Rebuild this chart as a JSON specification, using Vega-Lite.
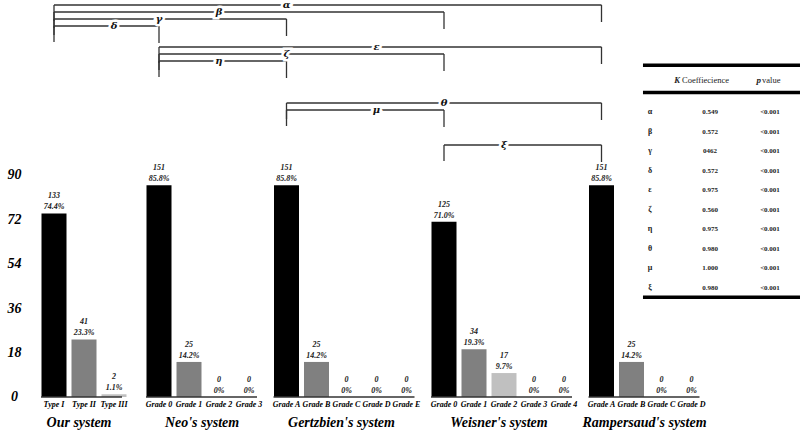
{
  "$schema": "https://vega.github.io/schema/vega-lite/v6.json",
  "width": 800,
  "height": 433,
  "autosize": "none",
  "padding": 0,
  "background": "white",
  "config": {"view": {"stroke": null}, "font": "Liberation Serif"},
  "datasets": {
    "bars": [
      {"system": "Our system", "grade": "Type I", "bar": "Our system|Type I", "n": 133, "pct": 74.4},
      {"system": "Our system", "grade": "Type II", "bar": "Our system|Type II", "n": 41, "pct": 23.3},
      {"system": "Our system", "grade": "Type III", "bar": "Our system|Type III", "n": 2, "pct": 1.1},
      {"system": "Neo's system", "grade": "Grade 0", "bar": "Neo's system|Grade 0", "n": 151, "pct": 85.8},
      {"system": "Neo's system", "grade": "Grade 1", "bar": "Neo's system|Grade 1", "n": 25, "pct": 14.2},
      {"system": "Neo's system", "grade": "Grade 2", "bar": "Neo's system|Grade 2", "n": 0, "pct": 0},
      {"system": "Neo's system", "grade": "Grade 3", "bar": "Neo's system|Grade 3", "n": 0, "pct": 0},
      {"system": "Gertzbien's system", "grade": "Grade A", "bar": "Gertzbien's system|Grade A", "n": 151, "pct": 85.8},
      {"system": "Gertzbien's system", "grade": "Grade B", "bar": "Gertzbien's system|Grade B", "n": 25, "pct": 14.2},
      {"system": "Gertzbien's system", "grade": "Grade C", "bar": "Gertzbien's system|Grade C", "n": 0, "pct": 0},
      {"system": "Gertzbien's system", "grade": "Grade D", "bar": "Gertzbien's system|Grade D", "n": 0, "pct": 0},
      {"system": "Gertzbien's system", "grade": "Grade E", "bar": "Gertzbien's system|Grade E", "n": 0, "pct": 0},
      {"system": "Weisner's system", "grade": "Grade 0", "bar": "Weisner's system|Grade 0", "n": 125, "pct": 71.0},
      {"system": "Weisner's system", "grade": "Grade 1", "bar": "Weisner's system|Grade 1", "n": 34, "pct": 19.3},
      {"system": "Weisner's system", "grade": "Grade 2", "bar": "Weisner's system|Grade 2", "n": 17, "pct": 9.7},
      {"system": "Weisner's system", "grade": "Grade 3", "bar": "Weisner's system|Grade 3", "n": 0, "pct": 0},
      {"system": "Weisner's system", "grade": "Grade 4", "bar": "Weisner's system|Grade 4", "n": 0, "pct": 0},
      {"system": "Rampersaud's system", "grade": "Grade A", "bar": "Rampersaud's system|Grade A", "n": 151, "pct": 85.8},
      {"system": "Rampersaud's system", "grade": "Grade B", "bar": "Rampersaud's system|Grade B", "n": 25, "pct": 14.2},
      {"system": "Rampersaud's system", "grade": "Grade C", "bar": "Rampersaud's system|Grade C", "n": 0, "pct": 0},
      {"system": "Rampersaud's system", "grade": "Grade D", "bar": "Rampersaud's system|Grade D", "n": 0, "pct": 0}
    ],
    "systems": [
      {"system": "Our system", "first": "Our system|Type I", "last": "Our system|Type III", "center": "Our system|Type II", "bars": 3},
      {"system": "Neo's system", "first": "Neo's system|Grade 0", "last": "Neo's system|Grade 3", "center": "Neo's system|Grade 1", "bars": 4},
      {"system": "Gertzbien's system", "first": "Gertzbien's system|Grade A", "last": "Gertzbien's system|Grade E", "center": "Gertzbien's system|Grade C", "bars": 5},
      {"system": "Weisner's system", "first": "Weisner's system|Grade 0", "last": "Weisner's system|Grade 4", "center": "Weisner's system|Grade 2", "bars": 5},
      {"system": "Rampersaud's system", "first": "Rampersaud's system|Grade A", "last": "Rampersaud's system|Grade D", "center": "Rampersaud's system|Grade B", "bars": 4}
    ],
    "brackets": [
      {"sym": "α", "from": "Our system|Type I", "to": "Rampersaud's system|Grade A", "level": 0, "at": "Gertzbien's system|Grade A"},
      {"sym": "β", "from": "Our system|Type I", "to": "Weisner's system|Grade 0", "level": 1, "at": "Neo's system|Grade 2"},
      {"sym": "γ", "from": "Our system|Type I", "to": "Gertzbien's system|Grade A", "level": 2, "at": "Neo's system|Grade 0"},
      {"sym": "δ", "from": "Our system|Type I", "to": "Neo's system|Grade 0", "level": 3, "at": "Our system|Type III"},
      {"sym": "ε", "from": "Neo's system|Grade 0", "to": "Rampersaud's system|Grade A", "level": 6, "at": "Gertzbien's system|Grade D"},
      {"sym": "ζ", "from": "Neo's system|Grade 0", "to": "Weisner's system|Grade 0", "level": 7, "at": "Gertzbien's system|Grade A"},
      {"sym": "η", "from": "Neo's system|Grade 0", "to": "Gertzbien's system|Grade A", "level": 8, "at": "Neo's system|Grade 2"},
      {"sym": "θ", "from": "Gertzbien's system|Grade A", "to": "Rampersaud's system|Grade A", "level": 14, "at": "Weisner's system|Grade 0"},
      {"sym": "μ", "from": "Gertzbien's system|Grade A", "to": "Weisner's system|Grade 0", "level": 15, "at": "Gertzbien's system|Grade D"},
      {"sym": "ξ", "from": "Weisner's system|Grade 0", "to": "Rampersaud's system|Grade A", "level": 20, "at": "Weisner's system|Grade 2"}
    ],
    "table": [
      {"sym": "α", "k": "0.549", "p": "<0.001"},
      {"sym": "β", "k": "0.572", "p": "<0.001"},
      {"sym": "γ", "k": "0462", "p": "<0.001"},
      {"sym": "δ", "k": "0.572", "p": "<0.001"},
      {"sym": "ε", "k": "0.975", "p": "<0.001"},
      {"sym": "ζ", "k": "0.560", "p": "<0.001"},
      {"sym": "η", "k": "0.975", "p": "<0.001"},
      {"sym": "θ", "k": "0.980", "p": "<0.001"},
      {"sym": "μ", "k": "1.000", "p": "<0.001"},
      {"sym": "ξ", "k": "0.980", "p": "<0.001"}
    ]
  },
  "layer": [
    {
      "layer": [
        {
          "layer": [
            {
              "data": {"name": "bars"},
              "mark": {"type": "bar", "width": 25},
              "encoding": {
                "x": {
                  "field": "bar", "type": "nominal",
                  "scale": {
                    "domain": ["Our system|Type I","s1","s2","s3","Our system|Type II","s4","s5","s6","Our system|Type III","s7","s8","s9","s10","s11","Neo's system|Grade 0","s12","s13","s14","Neo's system|Grade 1","s15","s16","s17","Neo's system|Grade 2","s18","s19","s20","Neo's system|Grade 3","s21","s22","s23","s24","Gertzbien's system|Grade A","s25","s26","s27","Gertzbien's system|Grade B","s28","s29","s30","Gertzbien's system|Grade C","s31","s32","s33","Gertzbien's system|Grade D","s34","s35","s36","Gertzbien's system|Grade E","s37","s38","s39","s40","Weisner's system|Grade 0","s41","s42","s43","Weisner's system|Grade 1","s44","s45","s46","Weisner's system|Grade 2","s47","s48","s49","Weisner's system|Grade 3","s50","s51","s52","Weisner's system|Grade 4","s53","s54","s55","s56","Rampersaud's system|Grade A","s57","s58","s59","Rampersaud's system|Grade B","s60","s61","s62","Rampersaud's system|Grade C","s63","s64","s65","Rampersaud's system|Grade D"],
                    "range": [50.25, 695.25], "paddingInner": 0, "paddingOuter": 0
                  },
                  "axis": {
                    "orient": "bottom", "offset": -36, "domain": false, "ticks": false, "tickSize": 0,
                    "title": null, "labelAngle": 0, "labelOverlap": false, "labelBound": false, "labelFlush": false,
                    "labelExpr": "indexof(datum.value, '|') >= 0 ? split(datum.value, '|')[1] : ''",
                    "labelPadding": 3, "labelFont": "Liberation Serif", "labelFontSize": 8,
                    "labelFontStyle": "italic", "labelFontWeight": "bold", "labelColor": "black"
                  }
                },
                "y": {
                  "field": "pct", "type": "quantitative",
                  "scale": {"domain": [-14.6, 160.9], "nice": false, "zero": false},
                  "axis": {
                    "values": [0, 18, 36, 54, 72, 90], "domain": false, "ticks": false, "tickSize": 0, "grid": false,
                    "title": null, "offset": -20, "labelAlign": "center", "labelPadding": 6,
                    "labelFont": "Liberation Serif", "labelFontSize": 14, "labelFontStyle": "italic",
                    "labelFontWeight": "bold", "labelColor": "black"
                  }
                },
                "y2": {"datum": 0},
                "color": {
                  "field": "grade", "type": "nominal", "legend": null,
                  "scale": {
                    "domain": ["Type I", "Grade 0", "Grade A", "Type II", "Grade 1", "Grade B", "Type III", "Grade 2", "Grade 3", "Grade 4", "Grade C", "Grade D", "Grade E"],
                    "range": ["#000000", "#000000", "#000000", "#808080", "#808080", "#808080", "#c0c0c0", "#c0c0c0", "#c0c0c0", "#c0c0c0", "#c0c0c0", "#c0c0c0", "#c0c0c0"]
                  }
                }
              }
            },
            {
              "data": {"name": "bars"},
              "mark": {"type": "text", "dy": -17, "baseline": "middle", "font": "Liberation Serif", "fontSize": 8, "fontStyle": "italic", "fontWeight": "bold", "fill": "#1a1a1a"},
              "encoding": {
                "x": {"field": "bar", "type": "nominal", "axis": {"title": null}},
                "y": {"field": "pct", "type": "quantitative"},
                "text": {"field": "n", "type": "quantitative"}
              }
            },
            {
              "data": {"name": "bars"},
              "mark": {"type": "text", "dy": -6, "baseline": "middle", "font": "Liberation Serif", "fontSize": 8, "fontStyle": "italic", "fontWeight": "bold", "fill": "#1a1a1a",
                       "text": {"expr": "datum.pct == 0 ? '0%' : format(datum.pct, '.1f') + '%'"}},
              "encoding": {
                "x": {"field": "bar", "type": "nominal", "axis": {"title": null}},
                "y": {"field": "pct", "type": "quantitative"}
              }
            },
            {
              "data": {"name": "systems"},
              "mark": {"type": "rule", "color": "#333333", "strokeWidth": 1.3, "xOffset": -13, "x2Offset": 8},
              "encoding": {
                "x": {"field": "first", "type": "nominal", "axis": {"title": null}},
                "x2": {"field": "last"},
                "y": {"datum": 0}
              }
            },
            {
              "data": {"name": "systems"},
              "transform": [{"filter": "datum.bars % 2 == 1"}],
              "mark": {"type": "text", "dx": -5, "dy": 26, "baseline": "middle", "font": "Liberation Serif", "fontSize": 14, "fontStyle": "italic", "fontWeight": "bold", "fill": "black"},
              "encoding": {
                "x": {"field": "center", "type": "nominal", "axis": {"title": null}},
                "y": {"datum": 0},
                "text": {"field": "system"}
              }
            },
            {
              "data": {"name": "systems"},
              "transform": [{"filter": "datum.bars % 2 == 0"}],
              "mark": {"type": "text", "dx": 13, "dy": 26, "baseline": "middle", "font": "Liberation Serif", "fontSize": 14, "fontStyle": "italic", "fontWeight": "bold", "fill": "black"},
              "encoding": {
                "x": {"field": "center", "type": "nominal", "axis": {"title": null}},
                "y": {"datum": 0},
                "text": {"field": "system"}
              }
            }
          ]
        },
        {
          "data": {"name": "brackets"},
          "layer": [
            {
              "mark": {"type": "rule", "color": "#333333", "strokeWidth": 1.3},
              "encoding": {
                "x": {"field": "from", "type": "nominal", "axis": {"title": null}},
                "x2": {"field": "to"},
                "y": {"field": "level", "type": "quantitative", "scale": {"domain": [-0.714, 61.143], "reverse": true, "nice": false, "zero": false}, "axis": null}
              }
            },
            {
              "mark": {"type": "rule", "color": "#333333", "strokeWidth": 1.3, "y2Offset": 16},
              "encoding": {
                "x": {"field": "from", "type": "nominal", "axis": {"title": null}},
                "y": {"field": "level", "type": "quantitative", "axis": null},
                "y2": {"field": "level"}
              }
            },
            {
              "mark": {"type": "rule", "color": "#333333", "strokeWidth": 1.3, "y2Offset": 17},
              "encoding": {
                "x": {"field": "to", "type": "nominal", "axis": {"title": null}},
                "y": {"field": "level", "type": "quantitative", "axis": null},
                "y2": {"field": "level"}
              }
            },
            {
              "mark": {"type": "text", "baseline": "middle", "font": "DejaVu Serif", "fontSize": 10, "fontStyle": "italic", "fontWeight": "bold", "fill": "white", "stroke": "white", "strokeWidth": 5},
              "encoding": {
                "x": {"field": "at", "type": "nominal", "axis": {"title": null}},
                "y": {"field": "level", "type": "quantitative", "axis": null},
                "text": {"field": "sym"}
              }
            },
            {
              "mark": {"type": "text", "baseline": "middle", "font": "DejaVu Serif", "fontSize": 10, "fontStyle": "italic", "fontWeight": "bold", "fill": "#111111"},
              "encoding": {
                "x": {"field": "at", "type": "nominal", "axis": {"title": null}},
                "y": {"field": "level", "type": "quantitative", "axis": null},
                "text": {"field": "sym"}
              }
            }
          ]
        }
      ],
      "resolve": {"scale": {"y": "independent"}}
    },
    {
      "layer": [
        {
          "data": {"name": "table"},
          "mark": {"type": "text", "baseline": "middle", "font": "Liberation Serif", "fontSize": 8, "fontWeight": "bold", "fill": "#222222"},
          "encoding": {
            "x": {"datum": "sym", "type": "nominal", "scale": {"domain": ["sym", "k", "p"], "range": [620, 800], "paddingInner": 0, "paddingOuter": 0}, "axis": null},
            "y": {"field": "sym", "type": "nominal", "scale": {"domain": ["head", "mid", "α", "β", "γ", "δ", "ε", "ζ", "η", "θ", "μ", "ξ", "bot"], "range": [63.25, 316.75], "paddingInner": 0, "paddingOuter": 0}, "axis": null},
            "text": {"field": "sym"}
          }
        },
        {
          "data": {"name": "table"},
          "mark": {"type": "text", "baseline": "middle", "font": "Liberation Serif", "fontSize": 7, "fontWeight": "bold", "fill": "#222222"},
          "encoding": {
            "x": {"datum": "k", "type": "nominal", "axis": null},
            "y": {"field": "sym", "type": "nominal", "axis": null},
            "text": {"field": "k"}
          }
        },
        {
          "data": {"name": "table"},
          "mark": {"type": "text", "baseline": "middle", "font": "Liberation Serif", "fontSize": 7, "fontWeight": "bold", "fill": "#222222"},
          "encoding": {
            "x": {"datum": "p", "type": "nominal", "axis": null},
            "y": {"field": "sym", "type": "nominal", "axis": null},
            "text": {"field": "p"}
          }
        },
        {
          "data": {"values": [{}]},
          "mark": {"type": "text", "align": "right", "baseline": "middle", "dx": -30, "font": "Liberation Serif", "fontSize": 8.5, "fontStyle": "italic", "fontWeight": "bold", "fill": "#222222", "text": "K"},
          "encoding": {
            "x": {"datum": "k", "type": "nominal", "axis": null},
            "y": {"datum": "head", "type": "nominal", "bandPosition": 0.85, "axis": null}
          }
        },
        {
          "data": {"values": [{}]},
          "mark": {"type": "text", "align": "left", "baseline": "middle", "dx": -28, "font": "Liberation Serif", "fontSize": 8.5, "fill": "#222222", "text": "Coeffiecience"},
          "encoding": {
            "x": {"datum": "k", "type": "nominal", "axis": null},
            "y": {"datum": "head", "type": "nominal", "bandPosition": 0.85, "axis": null}
          }
        },
        {
          "data": {"values": [{}]},
          "mark": {"type": "text", "align": "right", "baseline": "middle", "dx": -9, "font": "Liberation Serif", "fontSize": 9, "fontStyle": "italic", "fontWeight": "bold", "fill": "#222222", "text": "p"},
          "encoding": {
            "x": {"datum": "p", "type": "nominal", "axis": null},
            "y": {"datum": "head", "type": "nominal", "bandPosition": 0.85, "axis": null}
          }
        },
        {
          "data": {"values": [{}]},
          "mark": {"type": "text", "align": "left", "baseline": "middle", "dx": -8, "font": "Liberation Serif", "fontSize": 8.5, "fill": "#222222", "text": "value"},
          "encoding": {
            "x": {"datum": "p", "type": "nominal", "axis": null},
            "y": {"datum": "head", "type": "nominal", "bandPosition": 0.85, "axis": null}
          }
        },
        {
          "data": {"values": [{}]},
          "mark": {"type": "rule", "color": "black", "strokeWidth": 3.5},
          "encoding": {
            "x": {"datum": "sym", "type": "nominal", "bandPosition": 0.383, "axis": null},
            "x2": {"datum": "p", "bandPosition": 1},
            "y": {"datum": "head", "type": "nominal", "bandPosition": 0.1, "axis": null}
          }
        },
        {
          "data": {"values": [{}]},
          "mark": {"type": "rule", "color": "black", "strokeWidth": 3.5},
          "encoding": {
            "x": {"datum": "sym", "type": "nominal", "bandPosition": 0.383, "axis": null},
            "x2": {"datum": "p", "bandPosition": 1},
            "y": {"datum": "mid", "type": "nominal", "bandPosition": 0.5, "axis": null}
          }
        },
        {
          "data": {"values": [{}]},
          "mark": {"type": "rule", "color": "black", "strokeWidth": 3.5},
          "encoding": {
            "x": {"datum": "sym", "type": "nominal", "bandPosition": 0.383, "axis": null},
            "x2": {"datum": "p", "bandPosition": 1},
            "y": {"datum": "bot", "type": "nominal", "bandPosition": 0, "axis": null}
          }
        }
      ]
    }
  ],
  "resolve": {"scale": {"x": "independent", "y": "independent"}}
}
